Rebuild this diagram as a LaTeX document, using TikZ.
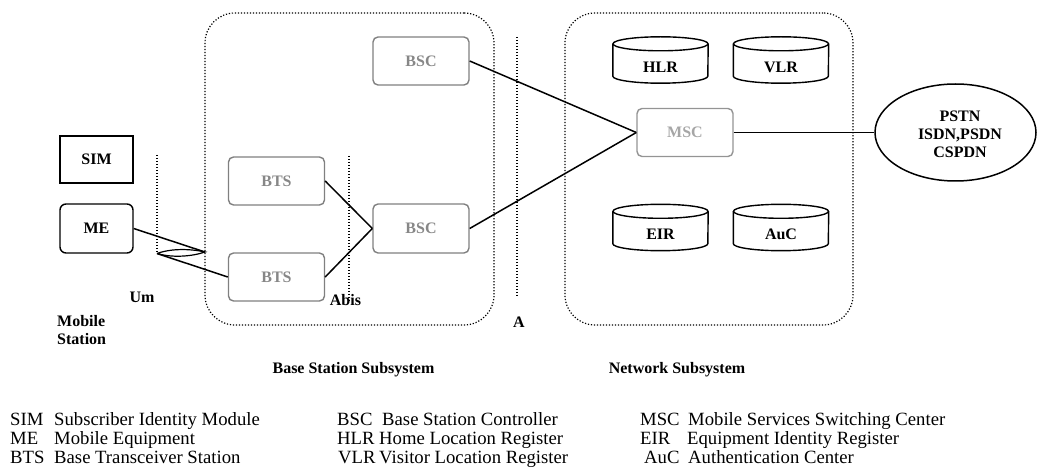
\documentclass[tikz,border=0pt]{standalone}
\usepackage{fontspec}
\setmainfont{Liberation Serif}
\usetikzlibrary{shapes.geometric}
\begin{document}
\begin{tikzpicture}[x=1pt,y=-1pt,
  lbl/.style={font=\bfseries\fontsize{16}{19}\selectfont},
  leg/.style={font=\fontsize{18.7}{20}\selectfont,anchor=base west,inner sep=0pt},
  graybox/.style={lbl,draw=black!50,text=black!47,line width=1.4pt,rounded corners=5pt,minimum width=96pt,minimum height=48pt,inner sep=0pt},
  lightbox/.style={graybox,draw=black!42,text=black!35},
  blackbox/.style={lbl,draw=black,line width=1.4pt,minimum width=73pt,minimum height=47pt,inner sep=0pt},
  cyl/.style={minimum width=95pt,minimum height=46pt,inner sep=0pt},
  cylline/.style={draw=black,line width=1.4pt},
  conn/.style={draw=black,line width=1.5pt},
  dots/.style={draw=black,line width=1.2pt,dash pattern=on 1.2pt off 1.8pt},
  region/.style={dots,rounded corners=30pt,minimum width=289pt,minimum height=312pt,inner sep=0pt}
]
\useasboundingbox (0,0) rectangle (1038,470);
% regions
\node[region] (BSS) at (349.5,169) {};
\node[region,minimum width=288pt] (NSS) at (709,169) {};
% interface lines
\coordinate (UmT) at (157,155); \coordinate (UmB) at (157,253);
\coordinate (AbT) at (349,156); \coordinate (AbB) at (349,301);
\coordinate (AT) at (517,37);  \coordinate (AB) at (517,297);
\draw[dots] (UmT) -- (UmB);
\draw[dots] (AbT) -- (AbB);
\draw[dots] (AT) -- (AB);
% mobile station
\node[blackbox] (SIM) at (96.5,159.5) {SIM};
\node[blackbox,rounded corners=6pt,minimum height=49pt] (ME) at (96.5,228.5) {ME};
% BSS
\node[graybox] (BSCa) at (421,61) {BSC};
\node[graybox] (BTSa) at (276.5,181) {BTS};
\node[graybox] (BTSb) at (276.5,277) {BTS};
\node[graybox,minimum height=49pt] (BSCb) at (421,228.5) {BSC};
% NSS
\node[lightbox] (MSC) at (685,132.5) {MSC};
\node[cyl] (HLR) at (660.5,60) {};
\node[cyl] (VLR) at (781,60) {};
\node[cyl] (EIR) at (660.5,227.5) {};
\node[cyl] (AuC) at (781,227.5) {};
\foreach \n in {HLR,VLR,EIR,AuC}{
  \draw[cylline] ([yshift=-7pt]\n.north west) -- ([yshift=7pt]\n.south west)
     arc[start angle=180,end angle=0,x radius=47.5,y radius=7]
     -- ([yshift=-7pt]\n.north east);
  \draw[cylline] ([yshift=-7pt]\n.north) ellipse[x radius=47.5,y radius=7];
}
\node[lbl] (HLRt) at (660.5,67) {HLR};
\node[lbl] (VLRt) at (781,67) {VLR};
\node[lbl] (EIRt) at (660.5,234) {EIR};
\node[lbl] (AuCt) at (781,234) {AuC};
% external networks
\node[draw=black,line width=1.5pt,ellipse,minimum width=161pt,minimum height=97pt,inner sep=0pt] (PSTN) at (955.5,132.5) {};
\node[lbl,align=center,inner sep=0pt] (PSTNt) at (960,134) {PSTN\\[-1pt]ISDN,PSDN\\[-1pt]CSPDN};
% radio link
\coordinate (lensR) at (205,252);
\coordinate (lensL) at (157,253.5);
\draw[conn] (ME.east) -- (lensR);
\draw[conn,line width=1.2pt] (lensL) .. controls (172,248) and (192,249) .. (lensR)
   .. controls (192,256.5) and (172,258) .. (lensL);
\draw[conn] (lensL) -- (BTSb.west);
% connectors
\draw[conn] (BTSa.east) -- (BSCb.west);
\draw[conn] (BTSb.east) -- (BSCb.west);
\draw[conn] (BSCb.east) -- (MSC.west);
\draw[conn] (BSCa.east) -- (MSC.west);
\draw[conn] (MSC.east) -- (PSTN.west);
% labels
\node[lbl] (Um) at (142,297) {Um};
\node[lbl] (Abis) at (345.5,300) {Abis};
\node[lbl] (Alab) at (519,322) {A};
\node[lbl,align=left,anchor=west,inner sep=0pt] (MS) at (57,330.5) {Mobile\\[-1pt]Station};
\node[lbl] (BSSt) at (353.5,370) {Base Station Subsystem};
\node[lbl] (NSSt) at (677,370) {Network Subsystem};
% legend
\node[leg] (l1a) at (10,425) {SIM}; \node[leg] (l1b) at (54,425) {Subscriber Identity Module};
\node[leg] (l2a) at (10,444) {ME};  \node[leg] (l2b) at (54,444) {Mobile Equipment};
\node[leg] (l3a) at (10,463) {BTS}; \node[leg] (l3b) at (54,463) {Base Transceiver Station};
\node[leg] (l4a) at (337,425) {BSC}; \node[leg] (l4b) at (382,425) {Base Station Controller};
\node[leg] (l5a) at (337,444) {HLR}; \node[leg] (l5b) at (379,444) {Home Location Register};
\node[leg] (l6a) at (338,463) {VLR}; \node[leg] (l6b) at (379,463) {Visitor Location Register};
\node[leg] (l7a) at (640,425) {MSC}; \node[leg] (l7b) at (688,425) {Mobile Services Switching Center};
\node[leg] (l8a) at (640,444) {EIR}; \node[leg] (l8b) at (687,444) {Equipment Identity Register};
\node[leg] (l9a) at (644,463) {AuC}; \node[leg] (l9b) at (688,463) {Authentication Center};
\end{tikzpicture}
\end{document}
